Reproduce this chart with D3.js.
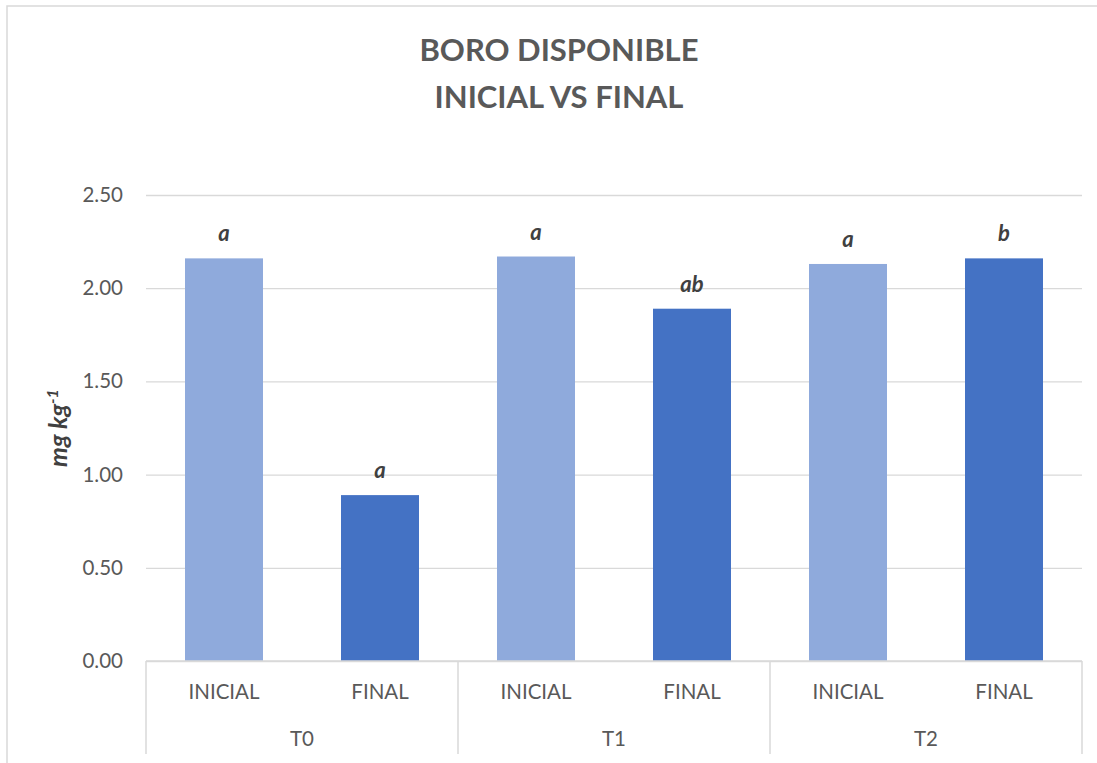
<!DOCTYPE html>
<html>
<head>
<meta charset="utf-8">
<script src="https://cdn.jsdelivr.net/npm/d3@7"></script>
<style>
html,body{margin:0;padding:0;background:#fff;}
svg{display:block;font-family:Lato,"Noto Sans",sans-serif;}
</style>
</head>
<body>
<svg id="chart" width="1097" height="763"></svg>
<script>
const groups = ["T0", "T1", "T2"];
const stages = ["INICIAL", "FINAL"];
const values = [2.16, 0.89, 2.17, 1.89, 2.13, 2.16];
const letters = ["a", "a", "a", "ab", "a", "b"];
const yTicks = [0, 0.5, 1.0, 1.5, 2.0, 2.5];
const colors = {INICIAL: "#8FAADC", FINAL: "#4472C4"};

const data = [];
groups.forEach((g, gi) => stages.forEach((s, si) => {
  const i = gi * stages.length + si;
  data.push({key: g + "|" + s, group: g, stage: s, value: values[i], letter: letters[i]});
}));

const svg = d3.select("#chart");
const mLeft = 146, mRight = 1082, mTop = 195, mBottom = 661;

// outer border
svg.append("rect").attr("x", 7).attr("y", 6).attr("width", 1200).attr("height", 900)
  .attr("fill", "none").attr("stroke", "#d9d9d9").attr("stroke-width", 1.5);

const y = d3.scaleLinear().domain([0, 2.5]).range([mBottom, mTop]);
const x = d3.scaleBand().domain(data.map(d => d.key)).range([mLeft, mRight])
  .paddingInner(0.5).paddingOuter(0.25);
const xg = d3.scaleBand().domain(groups).range([mLeft, mRight]);

// gridlines
const grid = svg.append("g").attr("transform", `translate(${mLeft},0)`)
  .call(d3.axisLeft(y).tickValues(yTicks).tickSize(-(mRight - mLeft)).tickFormat(""));
grid.select(".domain").remove();
grid.selectAll("line").attr("stroke", "#d9d9d9").attr("stroke-width", 1.3);

// y axis labels
const ya = svg.append("g").attr("transform", `translate(${mLeft},0)`)
  .call(d3.axisLeft(y).tickValues(yTicks).tickSize(0).tickPadding(23).tickFormat(d3.format(".2f")));
ya.select(".domain").remove();
ya.selectAll("text").attr("font-size", 20.5).attr("fill", "#595959").attr("font-family", "Lato,'Noto Sans',sans-serif");

// bars
svg.append("g").selectAll("rect").data(data).join("rect")
  .attr("x", d => x(d.key)).attr("width", x.bandwidth())
  .attr("y", d => y(d.value)).attr("height", d => y(0) - y(d.value))
  .attr("fill", d => colors[d.stage]);

// letters
svg.append("g").selectAll("text").data(data).join("text")
  .attr("x", d => x(d.key) + x.bandwidth() / 2).attr("y", d => y(d.value) - 17)
  .attr("text-anchor", "middle").attr("font-size", 22).attr("font-weight", "bold")
  .attr("font-style", "italic").attr("fill", "#404040").text(d => d.letter);

// bottom axis
svg.append("line").attr("x1", mLeft).attr("x2", mRight).attr("y1", mBottom).attr("y2", mBottom)
  .attr("stroke", "#d9d9d9").attr("stroke-width", 1.5);
const seps = groups.map(g => xg(g)).concat([mRight]);
svg.append("g").selectAll("line").data(seps).join("line")
  .attr("x1", d => d).attr("x2", d => d).attr("y1", mBottom).attr("y2", 754)
  .attr("stroke", "#d9d9d9").attr("stroke-width", 1.5);

svg.append("g").selectAll("text").data(data).join("text")
  .attr("x", d => x(d.key) + x.bandwidth() / 2).attr("y", 699)
  .attr("text-anchor", "middle").attr("font-size", 20.5).attr("fill", "#595959").text(d => d.stage);

svg.append("g").selectAll("text").data(groups).join("text")
  .attr("x", d => xg(d) + xg.bandwidth() / 2).attr("y", 746)
  .attr("text-anchor", "middle").attr("font-size", 20.5).attr("fill", "#595959").text(d => d);

// title
const title = svg.append("text").attr("x", 559).attr("text-anchor", "middle")
  .attr("font-size", 31).attr("font-weight", "bold").attr("fill", "#595959");
title.append("tspan").attr("x", 559).attr("y", 61).text("BORO DISPONIBLE");
title.append("tspan").attr("x", 559).attr("y", 108).text("INICIAL VS FINAL");

// y axis title
const yt = svg.append("text").attr("transform", `translate(67,${(mTop + mBottom) / 2}) rotate(-90)`)
  .attr("text-anchor", "middle").attr("font-size", 25).attr("font-weight", "bold")
  .attr("font-style", "italic").attr("fill", "#404040");
yt.append("tspan").text("mg kg");
yt.append("tspan").attr("dy", -9).attr("font-size", 16).text("-1");
</script>
</body>
</html>
